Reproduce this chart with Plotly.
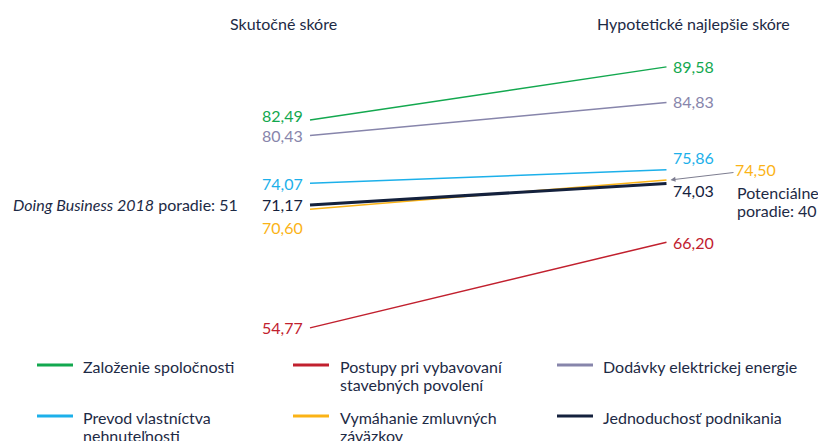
import plotly.graph_objects as go

# skóre: skutočné vs. hypotetické najlepšie
SERIES = [
    "Založenie spoločnosti",
    "Postupy pri vybavovaní<br>stavebných povolení",
    "Dodávky elektrickej energie",
    "Prevod vlastníctva<br>nehnuteľnosti",
    "Vymáhanie zmluvných<br>záväzkov",
    "Jednoduchosť podnikania",
]
ACTUAL = [82.49, 54.77, 80.43, 74.07, 70.60, 71.17]
BEST = [89.58, 66.20, 84.83, 75.86, 74.50, 74.03]
COLUMNS = ["Skutočné skóre", "Hypotetické najlepšie skóre"]
RANK_NOW = 51
RANK_POTENTIAL = 40

COLORS = ["#13a84f", "#c1202e", "#8785ab", "#1cb0ea", "#fbb316", "#14213d"]
WIDTHS = [1.5, 1.5, 1.5, 1.5, 1.5, 3]
TEXT = "#1d2a45"
FONT = "Lato"

W, H = 818, 441

# posuny popiskov (px, kladné = hore), aby sa neprekrývali
LEFT_SHIFT = [5, 0, 0, 0, -18, 0]
RIGHT_SHIFT = [0, 0, 1, 12, None, -7]


def fmt(v):
    return f"{v:.2f}".replace(".", ",")


def px(x):
    return x / W


def py(y):
    return 1 - y / H


def note(x, y, text, size=16, xanchor="left"):
    # text v pixelových súradniciach obrázka
    return dict(x=px(x), y=py(y), xref="paper", yref="paper", text=text,
                xanchor=xanchor, yanchor="middle", showarrow=False,
                font=dict(color=TEXT, size=size))


fig = go.Figure()

for i in [0, 1, 2, 3, 4, 5]:
    fig.add_trace(go.Scatter(
        x=[0, 1], y=[ACTUAL[i], BEST[i]], mode="lines",
        line=dict(color=COLORS[i], width=WIDTHS[i]),
        hoverinfo="skip", showlegend=False,
    ))

ann = []
for i, name in enumerate(SERIES):
    ann.append(dict(x=0, y=ACTUAL[i], text=fmt(ACTUAL[i]), xanchor="right",
                    yanchor="middle", xshift=-5, yshift=LEFT_SHIFT[i],
                    showarrow=False, font=dict(color=COLORS[i], size=16)))
    if RIGHT_SHIFT[i] is not None:
        ann.append(dict(x=1, y=BEST[i], text=fmt(BEST[i]), xanchor="left",
                        yanchor="middle", xshift=5, yshift=RIGHT_SHIFT[i],
                        showarrow=False, font=dict(color=COLORS[i], size=16)))

# 74,50 so šípkou
ann.append(dict(x=1, y=BEST[4], text=fmt(BEST[4]), xshift=4, showarrow=True,
                ax=85, ay=-10, arrowhead=2, arrowsize=1, arrowwidth=1,
                arrowcolor="#7d7d90", font=dict(color=COLORS[4], size=16)))
ann.append(note(735, 192, "Potenciálne"))
ann.append(note(735, 210, f"poradie: {RANK_POTENTIAL}"))
ann.append(dict(x=0, y=ACTUAL[5], text=f"<i>Doing Business 2018</i> poradie: {RANK_NOW}",
                xanchor="right", yanchor="middle", xshift=-70, showarrow=False,
                font=dict(color=TEXT, size=16)))

# hlavičky stĺpcov
for cx, label in zip([283.5, 693.5], COLUMNS):
    ann.append(note(cx, 23, label, xanchor="center"))

# legenda
shapes = []
cols = [(37, 81), (293, 338), (557, 601)]
rows = [366, 417]
for i, name in enumerate(SERIES):
    (lx, tx), ry = cols[i % 3], rows[i // 3]
    shapes.append(dict(type="line", xref="paper", yref="paper",
                       x0=px(lx), x1=px(lx + 36), y0=py(ry - 1), y1=py(ry - 1),
                       line=dict(color=COLORS[i], width=3)))
    for j, part in enumerate(name.split("<br>")):
        ann.append(note(tx, ry + 18 * j, part))

fig.update_layout(
    width=W, height=H,
    margin=dict(l=0, r=0, t=0, b=0),
    paper_bgcolor="white", plot_bgcolor="white",
    font=dict(family=FONT, color=TEXT),
    xaxis=dict(range=[-0.8696, 1.4250], visible=False, fixedrange=True),
    yaxis=dict(range=[39.68, 98.50], visible=False, fixedrange=True),
    annotations=ann, shapes=shapes,
    hovermode=False, showlegend=False,
)

fig.write_html("out.html", config={"displayModeBar": False},
               post_script="document.body.style.margin='0';")
